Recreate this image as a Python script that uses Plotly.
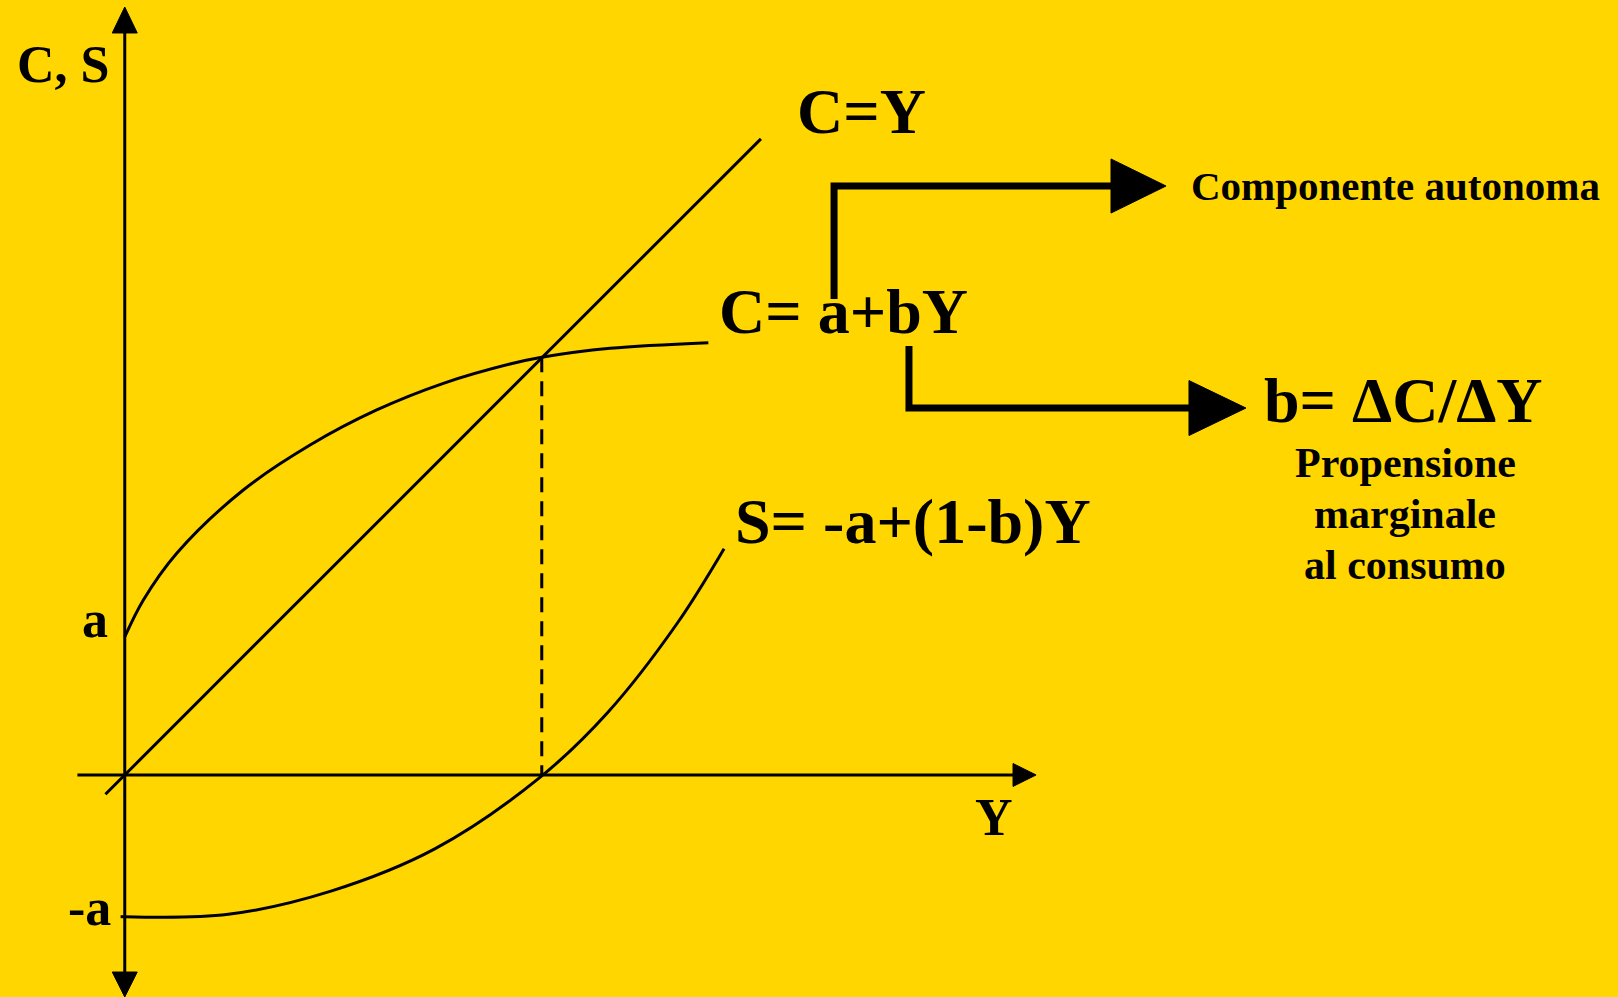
import plotly.graph_objects as go

# ---- data (economic units, a ~ 1) ----
# Consumption function C = a + bY (curved, as drawn)
c_y = [0.0, 0.135, 0.377, 0.859, 1.343, 1.826, 2.309, 2.792, 3.022, 3.517, 4.229]
c_c = [1.0, 1.268, 1.607, 2.065, 2.391, 2.645, 2.838, 2.978, 3.027, 3.092, 3.133]

# Saving function S = -a + (1-b)Y
s_y = [0.0, 0.75, 1.5, 2.25, 3.0, 3.5, 4.0, 4.343]
s_s = [-1.027, -1.01, -0.84, -0.534, -0.025, 0.453, 1.094, 1.64]

# 45-degree line C = Y
line45_y = [-0.14, 4.61]
line45_c = [-0.14, 4.61]

# break-even income
y_star = 3.022
c_star = 3.027

# axis extents
x_axis_ext = [-0.343, 6.437]
y_axis_ext = [-1.428, 5.377]

BG = "#FFD600"
FONT = "Liberation Serif"
INK = "black"

fig = go.Figure()

def seg(xs, ys, width=3, dash=None):
    fig.add_trace(go.Scatter(x=xs, y=ys, mode="lines",
                             line=dict(color=INK, width=width, dash=dash),
                             hoverinfo="skip", showlegend=False))

def tri(xs, ys):
    fig.add_trace(go.Scatter(x=xs, y=ys, mode="lines", fill="toself",
                             fillcolor=INK, line=dict(color=INK, width=1),
                             hoverinfo="skip", showlegend=False))

# axes
seg([0, 0], y_axis_ext)
tri([-0.0906, 0.0906, 0, -0.0906], [5.377, 5.377, 5.565, 5.377])
tri([-0.0906, 0.0906, 0, -0.0906], [-1.428, -1.428, -1.609, -1.428])
seg(x_axis_ext, [0, 0])
tri([6.437, 6.437, 6.604, 6.437], [0.083, -0.083, 0, 0.083])

# curves
seg(line45_y, line45_c)
fig.add_trace(go.Scatter(x=c_y, y=c_c, mode="lines",
                         line=dict(color=INK, width=3, shape="spline", smoothing=1.0),
                         hoverinfo="skip", showlegend=False))
fig.add_trace(go.Scatter(x=s_y, y=s_s, mode="lines",
                         line=dict(color=INK, width=3, shape="spline", smoothing=1.0),
                         hoverinfo="skip", showlegend=False))
seg([-0.03, 0.0], [s_s[0], s_s[0]])
seg([y_star, y_star], [c_star, 0], width=3, dash="15px,9px")

# callout arrows
seg([5.140, 5.140, 7.16], [3.449, 4.268, 4.268], width=7)
tri([7.147, 7.147, 7.546, 7.147], [4.464, 4.072, 4.268, 4.464])
seg([5.683, 5.683, 7.72], [3.109, 2.659, 2.659], width=7)
tri([7.712, 7.712, 8.125, 7.712], [2.858, 2.460, 2.659, 2.858])

def label(x, y, text, size):
    fig.add_annotation(x=x, y=y, xref="x", yref="y", text=text, showarrow=False,
                       xanchor="center", yanchor="middle",
                       font=dict(family=FONT, size=size, color=INK, weight="bold"))

label(-0.450, 5.15, "C, S", 52)
label(-0.215, 1.13, "a", 52)
label(-0.258, -0.96, "-a", 52)
label(6.299, -0.31, "Y", 52)
label(5.342, 4.81, "C=Y", 64)
label(5.212, 3.36, "C= a+bY", 64)
label(5.712, 1.84, "S= -a+(1-b)Y", 64)
label(9.212, 4.265, "Componente autonoma", 41)
label(9.263, 2.715, "b= ΔC/ΔY", 64)
label(9.278, 2.26, "Propensione", 42)
label(9.278, 1.89, "marginale", 42)
label(9.278, 1.52, "al consumo", 42)

fig.update_layout(
    width=1618, height=997,
    margin=dict(l=0, r=0, t=0, b=0),
    paper_bgcolor=BG, plot_bgcolor=BG,
    xaxis=dict(range=[-0.904, 10.821], visible=False, fixedrange=True),
    yaxis=dict(range=[-1.609, 5.616], visible=False, fixedrange=True),
    showlegend=False,
)

fig.write_html("out.html", config={"displayModeBar": False},
               post_script="document.body.style.margin='0';")
